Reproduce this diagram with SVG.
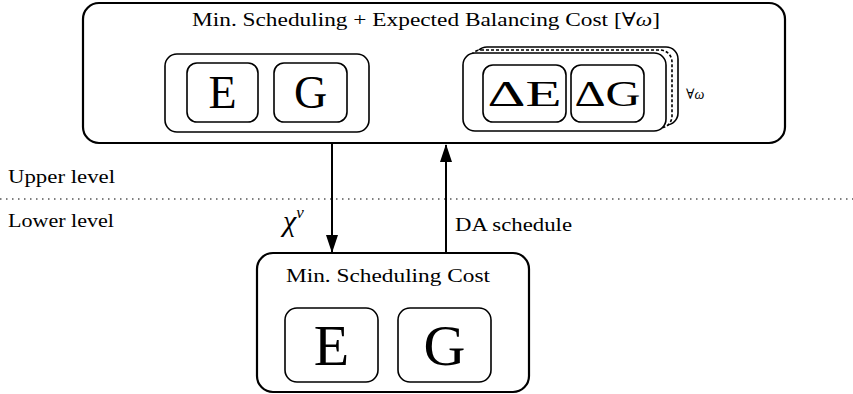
<svg xmlns="http://www.w3.org/2000/svg" width="853" height="394" viewBox="0 0 853 394">
<style>
text{font-family:"Liberation Serif","DejaVu Serif",serif;fill:#000}
.outer{fill:#fff;stroke:#000;stroke-width:2.2}
.inner{fill:#fff;stroke:#000;stroke-width:1.6}
.dash{fill:#fff;stroke:#000;stroke-width:1.6;stroke-dasharray:3 2}
.conn{stroke:#000;stroke-width:2;fill:none}
.lbl{font-size:19px}
.big{font-size:46px;text-anchor:middle}
.huge{font-size:58px;text-anchor:middle}
.mid{font-size:36px;text-anchor:middle}
</style>
<defs>
<marker id="ah" markerWidth="18" markerHeight="12" refX="17" refY="6" orient="auto" markerUnits="userSpaceOnUse" viewBox="0 0 18 12">
<path d="M0,0 L18,6 L0,12 Z" fill="#000"/>
</marker>
</defs>
<rect width="853" height="394" fill="#fff"/>
<line x1="0" y1="199" x2="853" y2="199" stroke="#555" stroke-width="1.5" stroke-dasharray="1.5 4.5"/>
<text class="lbl" x="8" y="183" textLength="107" lengthAdjust="spacingAndGlyphs">Upper level</text>
<text class="lbl" x="8" y="227" textLength="106" lengthAdjust="spacingAndGlyphs">Lower level</text>

<g id="upper">
<rect class="outer" x="83" y="3" width="702" height="140" rx="16"/>
<text class="lbl" x="192" y="26" textLength="468" lengthAdjust="spacingAndGlyphs">Min. Scheduling + Expected Balancing Cost [∀<tspan font-style="italic">ω</tspan>]</text>
<g id="upper-det">
<rect class="inner" x="165" y="54" width="204" height="78" rx="12"/>
<g id="upper-E"><rect class="inner" x="187" y="63" width="71" height="59" rx="10"/><text class="big" x="222.5" y="108">E</text></g>
<g id="upper-G"><rect class="inner" x="274" y="63" width="73" height="59" rx="10"/><text class="big" x="310.5" y="108">G</text></g>
</g>
<g id="upper-stoch">
<rect class="inner" x="475" y="47" width="203" height="78" rx="12"/>
<rect class="dash" x="469" y="50" width="203" height="78" rx="12"/>
<rect class="inner" x="463" y="53" width="203" height="78" rx="12"/>
<g id="upper-dE"><rect class="inner" x="483" y="65" width="83" height="57" rx="10"/><text class="mid" x="524.5" y="106" textLength="74" lengthAdjust="spacingAndGlyphs">ΔE</text></g>
<g id="upper-dG"><rect class="inner" x="571" y="65" width="73" height="57" rx="10"/><text class="mid" x="607.5" y="106" textLength="66" lengthAdjust="spacingAndGlyphs">ΔG</text></g>
<text x="686" y="99" font-size="14">∀<tspan font-style="italic">ω</tspan></text>
</g>
</g>

<g id="lower">
<rect class="outer" x="257" y="253" width="272" height="139" rx="16"/>
<text class="lbl" x="286" y="282" textLength="204" lengthAdjust="spacingAndGlyphs">Min. Scheduling Cost</text>
<g id="lower-E"><rect class="inner" x="285" y="308" width="93" height="74" rx="12"/><text class="huge" x="331.5" y="365">E</text></g>
<g id="lower-G"><rect class="inner" x="398" y="308" width="93" height="74" rx="12"/><text class="huge" x="444.5" y="365">G</text></g>
</g>

<g id="connectors">
<line class="conn" x1="332" y1="144" x2="332" y2="252" marker-end="url(#ah)"/>
<line class="conn" x1="446" y1="252" x2="446" y2="145" marker-end="url(#ah)"/>
<text x="283" y="231" font-size="30" font-style="italic">χ<tspan font-size="17" dy="-13">v</tspan></text>
<text class="lbl" x="455" y="231" textLength="117" lengthAdjust="spacingAndGlyphs">DA schedule</text>
</g>
</svg>
